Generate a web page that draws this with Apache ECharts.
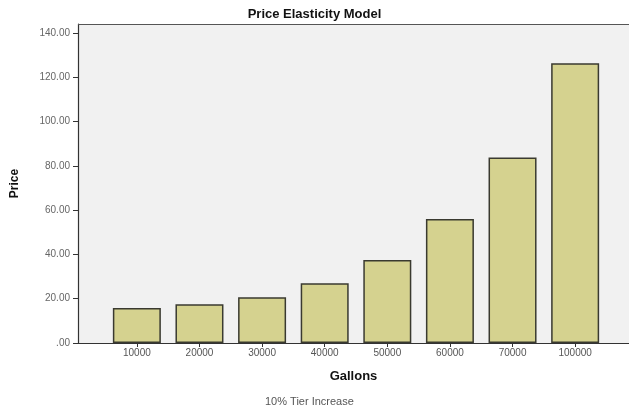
<!DOCTYPE html>
<html><head><meta charset="utf-8">
<script src="https://cdn.jsdelivr.net/npm/echarts@6/dist/echarts.min.js"></script>
<style>html,body{margin:0;padding:0;background:#fff;}#c{width:629px;height:407px;}</style>
</head><body><div id="c"></div>
<script>
const categories = ['10000','20000','30000','40000','50000','60000','70000','100000'];
const prices = [15.8, 17.5, 20.6, 27.0, 37.5, 56.0, 83.7, 126.3];
const yTicks = [0, 20, 40, 60, 80, 100, 120, 140];

const idx = categories.map((c, i) => i);
const chart = echarts.init(document.getElementById('c'));
chart.setOption({
  animation: false,
  backgroundColor: '#ffffff',
  title: {
    text: 'Price Elasticity Model', left: 'center', top: 3,
    textStyle: { fontFamily: 'Liberation Sans', fontWeight: 'bold', fontSize: 13, color: '#111' }
  },
  graphic: [{
    type: 'text', left: 265, top: 396,
    style: { text: '10% Tier Increase', fontFamily: 'Liberation Sans', fontSize: 11, fill: '#555' }
  }],
  grid: { left: 78, right: 0, top: 24, bottom: 64, show: true, backgroundColor: '#f1f1f1', borderWidth: 0 },
  xAxis: {
    type: 'value', min: -0.94, max: 7.86,
    name: 'Gallons', nameLocation: 'middle', nameGap: 27,
    nameTextStyle: { fontFamily: 'Liberation Sans', fontWeight: 'bold', fontSize: 13, color: '#111' },
    splitLine: { show: false },
    axisLine: { show: true, onZero: false, lineStyle: { color: '#333', width: 1.2 } },
    axisTick: { show: true, customValues: idx, length: 4, lineStyle: { color: '#333' } },
    axisLabel: { customValues: idx, formatter: v => categories[Math.round(v)], fontFamily: 'Liberation Sans', fontSize: 10, color: '#555', margin: 5 }
  },
  yAxis: [{
    type: 'value', min: 0, max: 144,
    name: 'Price', nameLocation: 'middle', nameGap: 57, nameRotate: 90,
    nameTextStyle: { fontFamily: 'Liberation Sans', fontWeight: 'bold', fontSize: 12, color: '#111' },
    splitLine: { show: false },
    axisLine: { show: true, onZero: false, lineStyle: { color: '#333', width: 1.2 } },
    axisTick: { show: true, customValues: yTicks, length: 5, lineStyle: { color: '#333' } },
    axisLabel: { customValues: yTicks, formatter: v => v === 0 ? '.00' : v.toFixed(2), fontFamily: 'Liberation Sans', fontSize: 10, color: '#666', margin: 8 }
  }, {
    type: 'value', min: 0, max: 144, position: 'right',
    axisLine: { show: false }, axisTick: { show: false }, axisLabel: { show: false }, splitLine: { show: false }
  }],
  series: [{
    type: 'bar', barWidth: 48,
    data: prices.map((p, i) => [idx[i], p]),
    itemStyle: { color: '#d5d28f', borderColor: '#3a3a30', borderWidth: 1.5 }
  }, {
    type: 'line', yAxisIndex: 1, data: [], silent: true,
    markLine: {
      silent: true, symbol: 'none', label: { show: false },
      lineStyle: { color: '#555', width: 1.2, type: 'solid' },
      data: [{ yAxis: 144 }]
    }
  }]
});
</script>
</body></html>
